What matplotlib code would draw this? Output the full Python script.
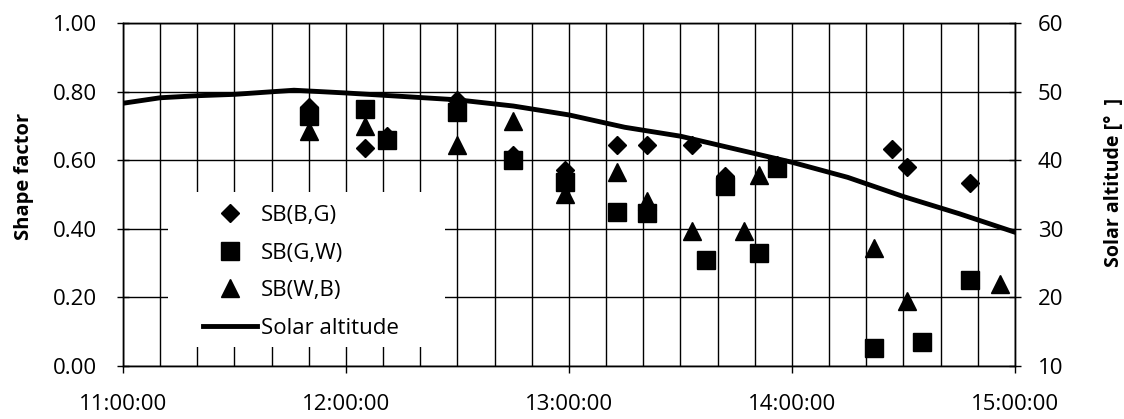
"""Shape factor of sky brightness pairs against time, with solar altitude."""

import matplotlib

matplotlib.use("Agg")
import matplotlib.pyplot as plt
from matplotlib.patches import Rectangle
from matplotlib.ticker import FixedLocator, FuncFormatter, MultipleLocator

plt.rcParams["font.family"] = ["Open Sans", "DejaVu Sans"]

# SB(B,G) -- diamonds
bg_times = ["11:50", "12:05", "12:11", "12:30", "12:45", "12:59", "13:13",
            "13:21", "13:33", "13:42", "13:56", "14:27", "14:31", "14:48"]
bg_values = [0.755, 0.635, 0.67, 0.775, 0.615, 0.57, 0.645,
             0.645, 0.645, 0.555, 0.585, 0.633, 0.58, 0.533]

# SB(G,W) -- squares
gw_times = ["11:50", "12:05", "12:11", "12:30", "12:45", "12:59", "13:13",
            "13:21", "13:37", "13:42", "13:51", "13:56", "14:22", "14:35", "14:48"]
gw_values = [0.73, 0.75, 0.66, 0.74, 0.60, 0.535, 0.45,
             0.445, 0.31, 0.525, 0.33, 0.577, 0.052, 0.07, 0.25]

# SB(W,B) -- triangles
wb_times = ["11:50", "12:05", "12:30", "12:45", "12:59", "13:13", "13:21",
            "13:33", "13:47", "13:51", "14:22", "14:31", "14:56"]
wb_values = [0.685, 0.70, 0.645, 0.715, 0.50, 0.565, 0.48,
             0.395, 0.395, 0.557, 0.344, 0.19, 0.24]

# solar altitude in degrees
sun_times = ["11:00", "11:10", "11:20", "11:30", "11:46", "12:00", "12:15",
             "12:30", "12:45", "13:00", "13:15", "13:30", "13:45", "14:00",
             "14:15", "14:30", "14:45", "15:00"]
sun_altitude = [48.3, 49.1, 49.4, 49.6, 50.2, 49.8, 49.3,
                48.8, 47.9, 46.6, 44.8, 43.5, 41.6, 39.7,
                37.5, 34.7, 32.2, 29.5]

hour_ticks = [11, 12, 13, 14, 15]
left_ticks = [0.0, 0.2, 0.4, 0.6, 0.8, 1.0]
right_ticks = [10, 20, 30, 40, 50, 60]


def to_hours(stamps):
	"""Turn 'HH:MM' strings into decimal hours."""
	out = []
	for stamp in stamps:
		hh, mm = stamp.split(":")
		out.append(int(hh) + int(mm) / 60.0)
	return out


fig = plt.figure(figsize=(11.24, 4.19), dpi=100)
ax = fig.add_axes([0.1094, 0.1265, 0.7936, 0.8186])
ax2 = ax.twinx()

marker_kw = dict(linestyle="none", color="black", markeredgecolor="black", zorder=3)
h_bg, = ax.plot(to_hours(bg_times), bg_values, marker="D", markersize=9,
	label="SB(B,G)", **marker_kw)
h_gw, = ax.plot(to_hours(gw_times), gw_values, marker="s", markersize=13,
	label="SB(G,W)", **marker_kw)
h_wb, = ax.plot(to_hours(wb_times), wb_values, marker="^", markersize=13,
	label="SB(W,B)", **marker_kw)
h_sun, = ax2.plot(to_hours(sun_times), sun_altitude, color="black", linewidth=3.5,
	label="Solar altitude", zorder=2)

ax.set_xlim(11, 15)
ax.set_ylim(0, 1)
ax2.set_ylim(10, 60)

ax.xaxis.set_major_locator(FixedLocator(hour_ticks))
ax.xaxis.set_minor_locator(MultipleLocator(1 / 6))
ax.xaxis.set_major_formatter(FuncFormatter(lambda h, _: f"{int(round(h))}:00:00"))
ax.yaxis.set_major_locator(FixedLocator(left_ticks))
ax.yaxis.set_major_formatter(FuncFormatter(lambda v, _: f"{v:.2f}"))
ax2.yaxis.set_major_locator(FixedLocator(right_ticks))

ax.set_axisbelow(True)
ax.grid(True, which="both", axis="x", color="black", linewidth=1.0)
ax.grid(True, which="major", axis="y", color="black", linewidth=1.0)

ax.tick_params(axis="x", which="major", direction="out", length=5, width=1,
	pad=15, labelsize=16, colors="black")
ax.tick_params(axis="x", which="minor", length=0)
ax.tick_params(axis="y", direction="inout", length=9, width=1, pad=14,
	labelsize=16)
ax2.tick_params(axis="y", direction="inout", length=9, width=1, pad=12,
	labelsize=16)

for axis in (ax, ax2):
	for spine in axis.spines.values():
		spine.set_color("black")
		spine.set_linewidth(1.0)

ax.set_ylabel("Shape factor", fontsize=14.5, fontweight="bold")
ax.yaxis.set_label_coords(-0.100, 0.554)
ax2.set_ylabel("Solar altitude [°  ]", fontsize=14, fontweight="bold")
ax2.yaxis.set_label_coords(1.100, 0.536)

# white legend area, wider than the entries themselves (as in the original)
ax2.add_patch(Rectangle((0.050, 0.055), 0.311, 0.452, transform=ax2.transAxes,
	facecolor="white", edgecolor="none", zorder=9))

legend = ax2.legend(
	handles=[h_bg, h_gw, h_wb, h_sun],
	loc="lower left",
	bbox_to_anchor=(0.075, 0.04),
	borderaxespad=0,
	frameon=False,
	fontsize=16,
	handlelength=2.4,
	handletextpad=0.2,
	labelspacing=0.75,
	borderpad=0.6,
)
legend.set_zorder(10)

fig.savefig("out.png", dpi=100)
